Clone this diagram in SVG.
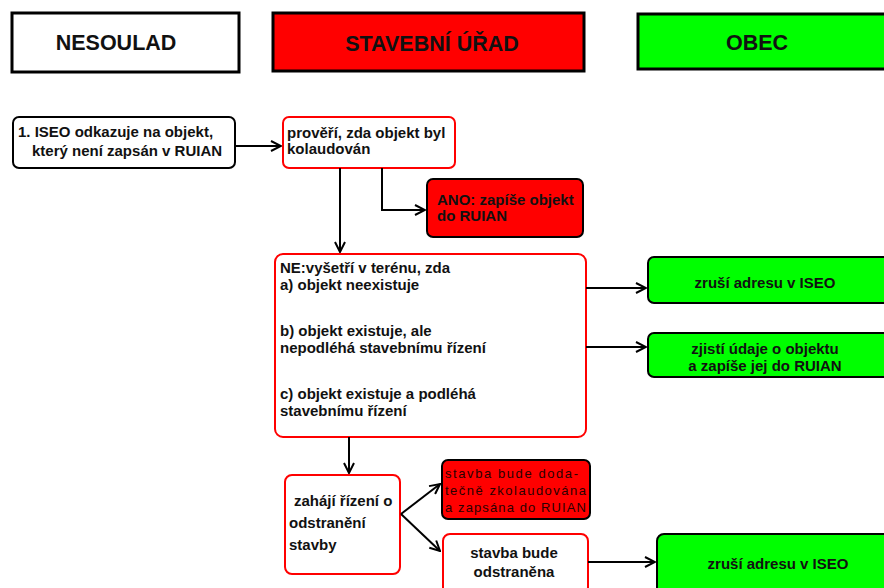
<svg xmlns="http://www.w3.org/2000/svg" width="884" height="588" viewBox="0 0 884 588">
<style>
.hdr{stroke:#000;stroke-width:3}
.hdrt{font-family:"Liberation Sans",Arial,sans-serif;font-weight:bold;font-size:21.5px;fill:#111;text-anchor:middle}
.t{font-family:"Liberation Sans",Arial,sans-serif;font-weight:bold;font-size:15px;fill:#111}
.tc{text-anchor:middle}
.wb{fill:#fff;stroke:#000;stroke-width:2}
.wr{fill:#fff;stroke:#f00;stroke-width:2}
.rb{fill:#f00;stroke:#000;stroke-width:2}
.gb{fill:#0f0;stroke:#000;stroke-width:2}
.c{fill:none;stroke:#000;stroke-width:2;marker-end:url(#ah)}
.sm{font-family:"Liberation Sans",Arial,sans-serif;font-size:13px;fill:#2a0000}
</style>
<defs>
<marker id="ah" viewBox="0 0 12 12" refX="11" refY="6" markerWidth="12" markerHeight="12" markerUnits="userSpaceOnUse" orient="auto">
<path d="M1,1 L11,6 L1,11" fill="none" stroke="#000" stroke-width="2"/>
</marker>
</defs>
<rect width="884" height="588" fill="#fff"/>

<g id="hdr-nesoulad">
<rect class="hdr" x="12" y="13" width="227" height="59" fill="#fff"/>
<text class="hdrt" x="116" y="50">NESOULAD</text>
</g>
<g id="hdr-urad">
<rect class="hdr" x="273" y="13" width="311" height="58" fill="#f00"/>
<text class="hdrt" x="432" y="51">STAVEBNÍ ÚŘAD</text>
</g>
<g id="hdr-obec">
<rect class="hdr" x="638" y="14" width="250" height="55" fill="#0f0"/>
<text class="hdrt" x="757" y="50">OBEC</text>
</g>

<g id="n1">
<rect class="wb" x="13" y="117" width="222" height="51" rx="6"/>
<text class="t" x="18" y="137">1. ISEO odkazuje na objekt,</text>
<text class="t" x="32" y="156">který není zapsán v RUIAN</text>
</g>
<g id="n2">
<rect class="wr" x="283" y="117" width="172" height="51" rx="6"/>
<text class="t" x="287" y="138">prověří, zda objekt byl</text>
<text class="t" x="287" y="154">kolaudován</text>
</g>
<g id="ano">
<rect class="rb" x="427" y="179" width="156" height="58" rx="6"/>
<text class="t" x="437" y="205">ANO: zapíše objekt</text>
<text class="t" x="437" y="221">do RUIAN</text>
</g>
<g id="ne">
<rect class="wr" x="275" y="254" width="311" height="183" rx="8"/>
<text class="t" x="280" y="273">NE:vyšetří v terénu, zda</text>
<text class="t" x="280" y="290">a) objekt neexistuje</text>
<text class="t" x="280" y="336">b) objekt existuje, ale</text>
<text class="t" x="280" y="353">nepodléhá stavebnímu řízení</text>
<text class="t" x="280" y="399">c) objekt existuje a podléhá</text>
<text class="t" x="280" y="416">stavebnímu řízení</text>
</g>
<g id="g1">
<rect class="gb" x="648" y="257" width="245" height="46" rx="6"/>
<text class="t tc" x="765" y="288">zruší adresu v ISEO</text>
</g>
<g id="g2">
<rect class="gb" x="648" y="333" width="245" height="44" rx="6"/>
<text class="t tc" x="765" y="354">zjistí údaje o objektu</text>
<text class="t tc" x="765" y="371">a zapíše jej do RUIAN</text>
</g>
<g id="zahaji">
<rect class="wr" x="285" y="475" width="115" height="99" rx="7"/>
<text class="t" x="294" y="506">zahájí řízení o</text>
<text class="t" x="289" y="528">odstranění</text>
<text class="t" x="289" y="550">stavby</text>
</g>
<g id="r2">
<rect class="rb" x="442" y="460" width="148" height="59" rx="6"/>
<text class="sm" x="445" y="478" textLength="133" lengthAdjust="spacing">stavba bude doda-</text>
<text class="sm" x="445" y="495" textLength="141" lengthAdjust="spacing">tečně zkolaudována</text>
<text class="sm" x="445" y="512" textLength="141" lengthAdjust="spacing">a zapsána do RUIAN</text>
</g>
<g id="odstr">
<rect class="wr" x="443" y="534" width="145" height="60" rx="7"/>
<text class="t tc" x="514" y="558">stavba bude</text>
<text class="t tc" x="514" y="577">odstraněna</text>
</g>
<g id="g3">
<rect class="gb" x="657" y="534" width="236" height="60" rx="7"/>
<text class="t tc" x="778" y="569">zruší adresu v ISEO</text>
</g>

<g id="connectors">
<path class="c" d="M235,146 H281"/>
<path class="c" d="M340,168 V252"/>
<path class="c" d="M382,168 V210 H425"/>
<path class="c" d="M586,288 H646"/>
<path class="c" d="M586,347 H646"/>
<path class="c" d="M349,437 V473"/>
<path class="c" d="M401,514 L440,484"/>
<path class="c" d="M401,514 L440,551"/>
<path class="c" d="M588,562 H655"/>
</g>
</svg>
